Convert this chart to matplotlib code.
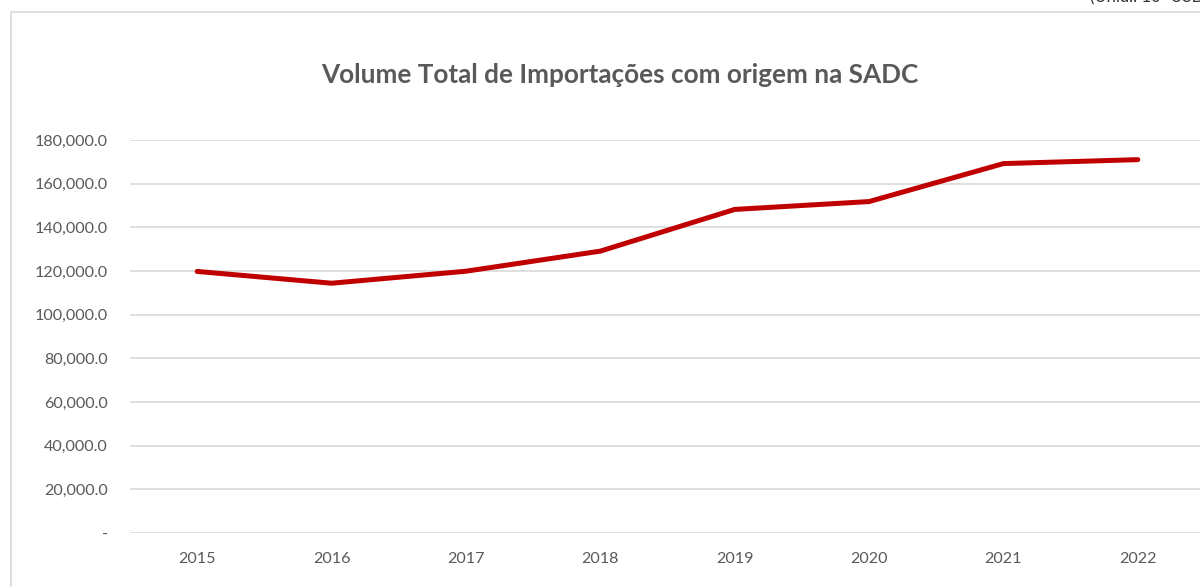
import matplotlib
matplotlib.use('Agg')
from matplotlib import pyplot as plt
from matplotlib.patches import Rectangle
from matplotlib.ticker import FuncFormatter

# Data
years = ['2015', '2016', '2017', '2018', '2019', '2020', '2021', '2022']
volume = [119800, 114400, 119900, 129100, 148200, 151800, 169200, 171000]
y_ticks = [0, 20000, 40000, 60000, 80000, 100000, 120000, 140000, 160000, 180000]

TEXT_GREY = '#595959'
GRID_GREY = '#D9D9D9'
W, H = 1200, 587

plt.rcParams['font.family'] = ['Lato', 'DejaVu Sans']

fig = plt.figure(figsize=(W / 100, H / 100), dpi=100)

# chart area border (runs off the right and bottom edges)
fig.patches.append(Rectangle((11 / W, -0.1), 1.1, 1 - 12 / H + 0.1,
                             transform=fig.transFigure, fill=False,
                             edgecolor=GRID_GREY, linewidth=1.2))

# unit note, cut off at the top as in the source
fig.text(1090 / W, 1 + 4 / H, '(Unid.: 10³ USD)', ha='left', va='center',
         fontsize=12, color='#333333')

fig.text(620 / W, 1 - 75 / H, 'Volume Total de Importações com origem na SADC',
         ha='center', va='center', fontsize=18.8, fontweight='bold', color=TEXT_GREY)

ax = fig.add_axes([130 / W, 1 - 533 / H, 1075 / W, (533 - 140) / H])
x = range(len(years))
ax.plot(x, volume, color='#C00000', linewidth=3.6, solid_capstyle='round',
        solid_joinstyle='round', zorder=3)

ax.set_xlim(-0.5, len(years) - 0.5)
ax.set_ylim(0, 180000)
ax.set_xticks(list(x))
ax.set_xticklabels(years)
ax.set_yticks(y_ticks)
ax.yaxis.set_major_formatter(FuncFormatter(lambda v, p: '-' if v == 0 else f'{v:,.1f}'))
ax.grid(axis='y', color=GRID_GREY, linewidth=1.2)
ax.set_axisbelow(True)
for s in ax.spines.values():
    s.set_visible(False)
ax.tick_params(length=0, labelsize=11.6, colors=TEXT_GREY)
ax.tick_params(axis='y', pad=16)
ax.tick_params(axis='x', pad=14)

fig.savefig('out.png', dpi=100)
